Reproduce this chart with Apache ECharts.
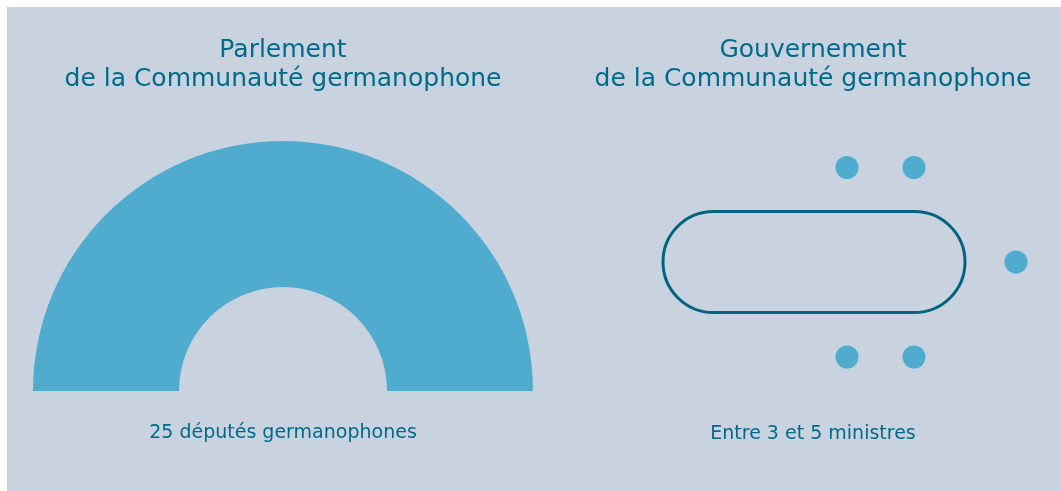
<!DOCTYPE html>
<html>
<head>
<meta charset="utf-8">
<script src="https://cdn.jsdelivr.net/npm/echarts@6/dist/echarts.min.js"></script>
<style>
  html, body { margin: 0; padding: 0; background: #fff; }
  #main { width: 1061px; height: 491px; }
</style>
</head>
<body>
<div id="main"></div>
<script>
// ---------------- data ----------------
const titles = ['Parlement\nde la Communauté germanophone', 'Gouvernement\nde la Communauté germanophone']
const captions = ['25 députés germanophones', 'Entre 3 et 5 ministres']
const parlementSeats = [25]
// table des ministres: [x0, y0, x1, y1] (unités de la grille)
const tableBox = [[-3.02, -1.01, 3.02, 1.01]]
const ministresX = [0.66, 2.0, 4.04, 0.66, 2.0]
const ministresY = [1.89, 1.89, 0, -1.9, -1.9]

const textColor = '#006a8a'
const seatColor = '#50acce'

let myChart = echarts.init(document.querySelector('#main'))

function textEl(str, x, y, size, lh) {
  return {
    type: 'text',
    x: x,
    y: y,
    style: {
      text: str,
      fill: textColor,
      font: size + 'px "DejaVu Sans", sans-serif',
      lineHeight: lh,
      align: 'center',
      verticalAlign: 'top'
    }
  }
}

let option = {
  animation: false,
  graphic: [
    // fond gris
    {
      type: 'rect',
      z: -100,
      silent: true,
      shape: { x: 7, y: 7, width: 1054, height: 484 },
      style: { fill: '#c9d3df' }
    },
    textEl(titles[0], 283, 36, 25, 29),
    textEl(titles[1], 813, 36, 25, 29),
    textEl(captions[0], 283, 421, 19, 24),
    textEl(captions[1], 813, 422, 19, 24)
  ],
  grid: {
    left: 589,
    top: 112,
    width: 450,
    height: 300
  },
  xAxis: { type: 'value', min: -4.5, max: 4.5, show: false },
  yAxis: { type: 'value', min: -3, max: 3, show: false },
  series: [
    {
      // hémicycle du parlement
      type: 'pie',
      center: [283, 391],
      radius: [104, 250],
      startAngle: 180,
      endAngle: 0,
      silent: true,
      label: { show: false },
      labelLine: { show: false },
      itemStyle: { color: seatColor },
      data: parlementSeats.map(v => ({ value: v, name: 'Députés' }))
    },
    {
      // table du gouvernement
      type: 'custom',
      clip: false,
      silent: true,
      data: tableBox,
      renderItem: function (params, api) {
        let p0 = api.coord([api.value(0), api.value(1)])
        let p1 = api.coord([api.value(2), api.value(3)])
        let x = Math.min(p0[0], p1[0])
        let y = Math.min(p0[1], p1[1])
        let w = Math.abs(p1[0] - p0[0])
        let h = Math.abs(p1[1] - p0[1])
        return {
          type: 'rect',
          shape: { x: x, y: y, width: w, height: h, r: h / 2 },
          style: { fill: 'none', stroke: '#00647f', lineWidth: 3 }
        }
      }
    },
    {
      // ministres
      type: 'scatter',
      silent: true,
      symbolSize: 23,
      itemStyle: { color: seatColor, opacity: 1 },
      data: ministresX.map((x, i) => [x, ministresY[i]])
    }
  ]
}
myChart.setOption(option)
</script>
</body>
</html>
